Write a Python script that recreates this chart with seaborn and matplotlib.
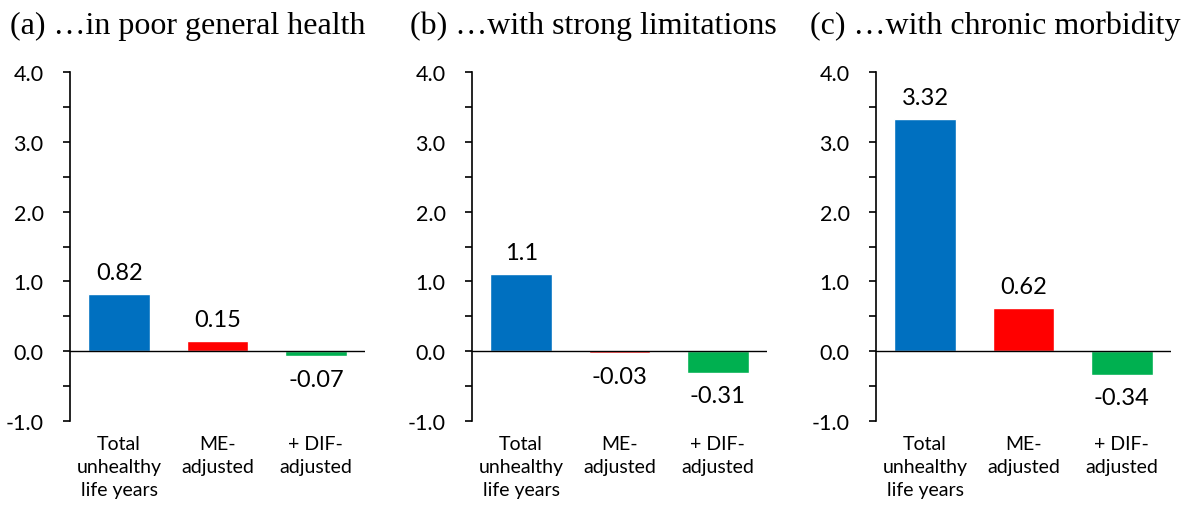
import matplotlib
matplotlib.use('Agg')
import matplotlib.pyplot as plt
import seaborn as sns
import numpy as np

categories = ['Total\nunhealthy\nlife years', 'ME-\nadjusted', '+ DIF-\nadjusted']
titles = ['(a) \u2026in poor general health',
          '(b) \u2026with strong limitations',
          '(c) \u2026with chronic morbidity']
values_a = [0.82, 0.15, -0.07]
values_b = [1.1, -0.03, -0.31]
values_c = [3.32, 0.62, -0.34]
labels_a = ['0.82', '0.15', '-0.07']
labels_b = ['1.1', '-0.03', '-0.31']
labels_c = ['3.32', '0.62', '-0.34']
bar_colors = ['#0070C0', '#FF0000', '#00B050']
y_ticks = [-1.0, 0.0, 1.0, 2.0, 3.0, 4.0]

sns.set_style('white')
plt.rcParams['font.family'] = ['Lato', 'DejaVu Sans']
plt.rcParams['text.color'] = 'black'
plt.rcParams['xtick.color'] = 'black'
plt.rcParams['ytick.color'] = 'black'

fig = plt.figure(figsize=(11.89, 5.10), dpi=100)
W, H = 1189, 510
ax_left_px = [70, 472, 876]
ax_width_px = 295
y_top_px, y_bot_px = 73, 422
title_x_px = [10, 410, 810]

panels = [(values_a, labels_a), (values_b, labels_b), (values_c, labels_c)]

for i, (vals, labs) in enumerate(panels):
    ax = fig.add_axes([ax_left_px[i] / W, (H - y_bot_px) / H,
                       ax_width_px / W, (y_bot_px - y_top_px) / H])
    sns.barplot(x=categories, y=vals, hue=categories, palette=bar_colors,
                legend=False, width=0.63, ax=ax, saturation=1)
    ax.set_xlim(-0.5, 2.5)
    ax.set_ylim(-1.0, 4.0)
    ax.set_yticks(y_ticks)
    ax.set_yticklabels([f'{t:.1f}' for t in y_ticks], fontsize=15.5)
    ax.set_yticks(np.arange(-1.0, 4.01, 0.5), minor=True)
    ax.tick_params(axis='y', which='both', direction='out', length=5, width=1.2,
                   color='black', pad=14, left=True)
    ax.tick_params(axis='x', length=0, pad=10, labelsize=14)
    for lbl in ax.get_xticklabels():
        lbl.set_linespacing(1.45)
    for s in ['top', 'right', 'bottom']:
        ax.spines[s].set_visible(False)
    ax.spines['left'].set_color('black')
    ax.spines['left'].set_linewidth(1.2)
    ax.axhline(0, color='black', lw=1.0, zorder=3)
    ax.set_xlabel('')
    ax.set_ylabel('')
    for j, (v, t) in enumerate(zip(vals, labs)):
        if v >= 0:
            ax.annotate(t, (j, v), xytext=(0, 8), textcoords='offset points',
                        ha='center', va='bottom', fontsize=17)
        else:
            ax.annotate(t, (j, v), xytext=(0, -9), textcoords='offset points',
                        ha='center', va='top', fontsize=17)
    fig.text(title_x_px[i] / W, 1 - 34 / H, titles[i], fontsize=23,
             family=['Liberation Serif', 'DejaVu Serif'], ha='left', va='baseline')

fig.savefig('out.png', dpi=100)
